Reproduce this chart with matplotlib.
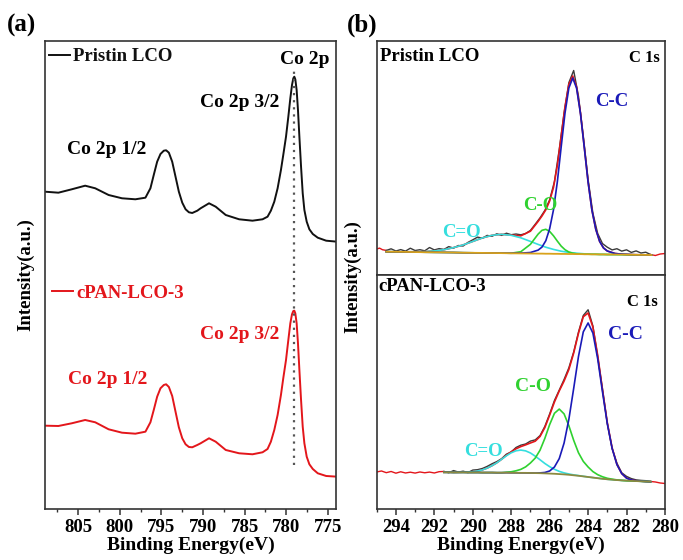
import numpy as np
import matplotlib
matplotlib.use("Agg")
import matplotlib.pyplot as plt
from matplotlib.ticker import MultipleLocator

plt.rcParams['font.family'] = ['Liberation Serif', 'DejaVu Serif']
plt.rcParams['font.weight'] = 'bold'

# ---------------- (a) Co 2p ----------------
co2p_be = [809.0, 807.39, 805.78, 804.17, 802.96, 801.35, 799.74, 798.13, 796.92, 796.32,
           795.92, 795.51, 795.11, 794.71, 794.43, 794.10, 793.70, 793.30, 792.90, 792.49,
           792.09, 791.69, 791.29, 790.68, 790.28, 789.27, 788.47, 787.26, 785.65, 784.04,
           782.83, 782.23, 781.83, 781.42, 781.02, 780.62, 780.34, 780.01, 779.73, 779.49,
           779.29, 779.13, 779.01, 778.89, 778.73, 778.57, 778.40, 778.20, 778.00, 777.80,
           777.52, 777.20, 776.79, 776.19, 775.18, 773.86]
pristine_co2p = [317.3, 316.3, 319.7, 323.3, 320.7, 314.0, 310.7, 309.7, 311.3, 320.7,
                 334.0, 347.3, 355.0, 358.3, 358.7, 356.3, 347.3, 332.3, 317.3, 306.3,
                 299.7, 296.7, 296.0, 298.3, 300.7, 305.7, 302.3, 294.0, 289.7, 288.3,
                 289.7, 292.3, 298.3, 307.3, 320.7, 339.0, 354.0, 372.3, 392.3, 410.7,
                 424.0, 430.7, 432.3, 429.7, 419.0, 399.0, 372.3, 342.3, 315.7, 299.0,
                 287.3, 279.7, 275.0, 271.3, 268.3, 267.3]
cpan_co2p = [83.3, 83.0, 85.7, 89.0, 86.7, 79.7, 76.3, 75.3, 77.3, 86.7,
             99.0, 112.3, 120.7, 124.0, 124.7, 122.0, 113.0, 97.3, 81.7, 70.7,
             64.7, 62.0, 61.7, 64.0, 65.7, 70.7, 67.3, 59.0, 55.7, 54.7,
             56.7, 60.0, 67.3, 79.0, 94.0, 114.0, 130.7, 149.0, 169.0, 185.7,
             194.7, 198.0, 198.3, 195.7, 185.7, 165.7, 139.0, 109.0, 82.3, 65.7,
             52.3, 44.7, 40.0, 35.7, 33.0, 32.3]
co2p32_be = 779.05
co2p32_span = (44, 439)

# ---------------- (b) C 1s, pristine LCO ----------------
c1s_raw_be_top = [294.5, 294.25, 294.0, 293.75, 293.5, 293.25, 293.0, 292.75, 292.5, 292.25,
                  292.0, 291.75, 291.5, 291.25, 291.0, 290.75, 290.5, 290.25, 290.0, 289.75,
                  289.5, 289.25, 289.0, 288.75, 288.5, 288.25, 288.0, 287.75, 287.5, 287.25,
                  287.0, 286.75, 286.5, 286.25, 286.0, 285.75, 285.5, 285.25, 285.0, 284.75,
                  284.5, 284.25, 284.0, 283.75, 283.5, 283.25, 283.0, 282.75, 282.5, 282.25,
                  282.0, 281.75, 281.5, 281.25, 281.0, 280.75]
c1s_raw_top = [24.6, 26.2, 24.0, 25.4, 23.9, 26.8, 24.5, 25.3, 24.2, 27.5,
               25.1, 26.4, 25.6, 28.4, 26.9, 29.5, 29.0, 32.6, 35.2, 37.9,
               36.8, 39.6, 38.7, 41.2, 39.6, 41.8, 40.3, 41.0, 40.2, 41.5,
               44.6, 50.8, 57.2, 64.6, 75.2, 93.5, 125.7, 162.0, 192.4, 204.5,
               178.8, 139.0, 95.6, 61.8, 41.5, 31.4, 27.8, 25.1, 26.3, 23.9,
               25.2, 22.6, 24.1, 22.0, 22.8, 20.5]
edge_left_be_top = [295.0, 294.85, 294.7, 294.5]
edge_left_top = [26.0, 26.9, 25.3, 24.6]
edge_right_be_top = [280.75, 280.5, 280.25, 280.0]
edge_right_top = [20.5, 19.5, 21.0, 21.5]

fit_be_top = [294.5, 293.5, 292.5, 292.0, 291.5, 291.0, 290.5, 290.0, 289.5, 289.0,
              288.5, 288.0, 287.5, 287.0, 286.6, 286.4, 286.2, 286.0, 285.8, 285.6,
              285.4, 285.2, 285.0, 284.8, 284.6, 284.4, 284.2, 284.0, 283.8, 283.6,
              283.4, 283.2, 283.0, 282.6, 282.2, 281.6, 281.0, 280.7]
bg_top = [23.3, 23.1, 22.8, 22.7, 22.6, 22.5, 22.3, 22.2, 22.1, 22.0,
          21.9, 21.7, 21.6, 21.5, 21.4, 21.4, 21.3, 21.3, 21.2, 21.2,
          21.1, 21.1, 21.0, 21.0, 20.9, 20.9, 20.8, 20.8, 20.7, 20.7,
          20.6, 20.6, 20.5, 20.5, 20.4, 20.2, 20.1, 20.0]
cc_top = [0, 0, 0, 0, 0, 0, 0, 0, 0, 0,
          0, 0.1, 0.3, 1.0, 3.5, 6.5, 13, 25, 44, 72,
          107, 141, 166, 176, 166, 141, 107, 72, 44, 25,
          13, 6.5, 3.5, 1.0, 0.4, 0.1, 0, 0]
co_top = [0, 0, 0, 0, 0, 0, 0, 0, 0, 0,
          0, 0.1, 1.7, 9.2, 19.5, 23.3, 24.4, 22.3, 18.0, 12.7,
          7.8, 4.2, 2.0, 0.8, 0.3, 0.1, 0, 0, 0, 0,
          0, 0, 0, 0, 0, 0, 0, 0]
c_o_top = [0, 0.1, 0.6, 1.4, 2.7, 4.9, 7.8, 11.4, 15.0, 17.7,
           18.8, 18.0, 15.6, 12.1, 9.2, 7.8, 6.5, 5.4, 4.4, 3.5,
           2.7, 2.1, 1.6, 1.2, 0.9, 0.6, 0.4, 0.3, 0.2, 0.1,
           0, 0, 0, 0, 0, 0, 0, 0]

# ---------------- (b) C 1s, cPAN-LCO-3 ----------------
fit_be_bot = [291.5, 291.25, 291.0, 290.75, 290.5, 290.25, 290.0, 289.75, 289.5, 289.25,
              289.0, 288.75, 288.5, 288.25, 288.0, 287.75, 287.5, 287.25, 287.0, 286.75,
              286.5, 286.25, 286.0, 285.75, 285.5, 285.25, 285.0, 284.75, 284.5, 284.25,
              284.0, 283.75, 283.5, 283.25, 283.0, 282.75, 282.5, 282.25, 282.0, 281.75,
              281.5, 281.25, 281.0, 280.75]
c1s_raw_bot = [37.5, 36.2, 38.4, 36.9, 37.8, 36.4, 38.9, 39.3, 40.5, 42.6,
               45.2, 47.4, 50.3, 54.8, 57.0, 61.5, 63.8, 65.0, 67.9, 69.1,
               73.4, 82.6, 95.0, 108.5, 118.9, 129.5, 141.2, 157.0, 176.9, 193.5,
               199.2, 183.0, 152.4, 120.1, 85.7, 60.5, 45.8, 36.2, 32.6, 30.4,
               29.1, 28.6, 28.3, 27.5]
bg_bot = [36.7, 36.7, 36.6, 36.6, 36.6, 36.5, 36.5, 36.5, 36.4, 36.4,
          36.4, 36.3, 36.3, 36.3, 36.2, 36.2, 36.1, 36.1, 36.0, 35.9,
          35.8, 35.6, 35.4, 35.2, 34.9, 34.6, 34.2, 33.7, 33.2, 32.6,
          32.0, 31.4, 30.8, 30.2, 29.7, 29.3, 28.9, 28.6, 28.3, 28.1,
          27.9, 27.7, 27.5, 27.3]
cc_bot = [0, 0, 0, 0, 0, 0, 0, 0, 0, 0,
          0, 0, 0, 0, 0, 0, 0, 0, 0, 0,
          0.3, 0.9, 2.6, 6.8, 15.5, 31.3, 55.5, 86.8, 119.3, 144.5,
          154, 144.5, 119.3, 86.8, 55.5, 31.3, 15.5, 6.8, 2.6, 0.9,
          0.3, 0.1, 0, 0]
co_bot = [0, 0, 0, 0, 0, 0, 0, 0, 0, 0,
          0, 0, 0, 0.5, 1.0, 2.0, 3.5, 6.0, 10.0, 15.0,
          23.0, 35.0, 49.0, 60.5, 65.0, 60.5, 49.0, 35.0, 23.0, 15.0,
          10.0, 6.0, 3.5, 2.0, 1.0, 0.5, 0.2, 0, 0, 0,
          0, 0, 0, 0]
c_o_bot = [0, 0, 0, 0.1, 0.2, 0.4, 0.8, 1.5, 2.7, 4.5,
           6.9, 9.9, 13.4, 16.9, 20.0, 22.0, 22.8, 22.0, 20.0, 16.9,
           13.4, 9.9, 6.9, 4.5, 2.7, 1.5, 0.8, 0.4, 0.2, 0.1,
           0, 0, 0, 0, 0, 0, 0, 0, 0, 0,
           0, 0, 0, 0]
edge_left_be_bot = [295.0, 294.75, 294.5, 294.25, 294.0, 293.75, 293.5, 293.25, 293.0,
                    292.75, 292.5, 292.25, 292.0, 291.75, 291.5]
edge_left_bot = [37.0, 38.0, 36.3, 37.5, 35.8, 37.2, 36.0, 36.8, 35.9,
                 37.0, 36.2, 36.9, 36.0, 37.3, 37.5]
edge_right_be_bot = [280.75, 280.5, 280.25, 280.0]
edge_right_bot = [27.5, 27.0, 26.0, 25.5]

RED = '#e3161b'
BLUE = '#1a1ab8'
GREEN = '#2fd12f'
CYAN = '#35dede'
RAW = '#3a3a3a'
SPINE = '#333333'
FS = 13.5

fig = plt.figure(figsize=(6.83, 5.6), dpi=100)
ax_a = fig.add_axes([0.0659, 0.0911, 0.426, 0.8357])
ax_t = fig.add_axes([0.5515, 0.5089, 0.4221, 0.4179])
ax_b = fig.add_axes([0.5515, 0.0911, 0.4221, 0.4179], sharex=ax_t)

for ax in (ax_a, ax_t, ax_b):
    for s in ax.spines.values():
        s.set_linewidth(1.2)
        s.set_color(SPINE)
    ax.set_yticks([])

# ---- panel (a) ----
h1, = ax_a.plot(co2p_be, pristine_co2p, color='#111111', lw=1.4, label='Pristin LCO')
h2, = ax_a.plot(co2p_be, cpan_co2p, color=RED, lw=1.4, label='cPAN-LCO-3')
ax_a.vlines(co2p32_be, co2p32_span[0], co2p32_span[1], colors='#555555', lw=1.6,
            linestyles=(0, (1, 2.2)))
ax_a.set_xlim(809, 774)
ax_a.set_ylim(0, 468)
ax_a.set_xticks([805, 800, 795, 790, 785, 780, 775])
ax_a.xaxis.set_minor_locator(MultipleLocator(2.5))
ax_a.tick_params(axis='x', which='major', direction='out', length=4, width=1.1,
                 labelsize=FS, pad=3, colors=SPINE, labelcolor='black')
ax_a.tick_params(axis='x', which='minor', direction='out', length=2.5, width=1.0, colors=SPINE)
ax_a.set_xlabel('Binding Energy(eV)', fontsize=FS + 0.5, fontweight='bold', labelpad=1)
ax_a.set_ylabel('Intensity(a.u.)', fontsize=FS, fontweight='bold', labelpad=8)

prop = dict(size=FS, weight='bold')
leg1 = ax_a.legend(handles=[h1], loc='center left', bbox_to_anchor=(0.014, 0.966),
                   frameon=False, handlelength=1.1, handletextpad=0.2, borderpad=0,
                   borderaxespad=0, prop=prop, labelcolor='linecolor')
ax_a.add_artist(leg1)
ax_a.legend(handles=[h2], loc='center left', bbox_to_anchor=(0.024, 0.4615),
            frameon=False, handlelength=1.1, handletextpad=0.2, borderpad=0,
            borderaxespad=0, prop=prop, labelcolor='linecolor')

ax_a.text(777.8, 449, 'Co 2p', ha='center', va='center', fontsize=FS + 0.5)
ax_a.text(785.6, 406, 'Co 2p 3/2', ha='center', va='center', fontsize=FS + 0.5)
ax_a.text(801.6, 359, 'Co 2p 1/2', ha='center', va='center', fontsize=FS + 0.5)
ax_a.text(785.6, 174, 'Co 2p 3/2', ha='center', va='center', fontsize=FS + 0.5, color=RED)
ax_a.text(801.5, 129, 'Co 2p 1/2', ha='center', va='center', fontsize=FS + 0.5, color=RED)

# ---- panel (b) ----
def draw_c1s(ax, raw_be, raw, fit_be, bg, cc, co, c_o, left_be, left, right_be, right, bg_color):
    bg = np.array(bg)
    env = bg + np.array(cc) + np.array(co) + np.array(c_o)
    ax.plot(left_be, left, color=RED, lw=1.0)
    ax.plot(right_be, right, color=RED, lw=1.0)
    ax.plot(raw_be, raw, color=RAW, lw=1.0)
    ax.plot(fit_be, env, color=RED, lw=1.2)
    ax.plot(fit_be, bg + np.array(c_o), color=CYAN, lw=1.2)
    ax.plot(fit_be, bg + np.array(co), color=GREEN, lw=1.2)
    ax.plot(fit_be, bg + np.array(cc), color=BLUE, lw=1.2)
    ax.plot(fit_be, bg, color=bg_color, lw=1.3)
    ax.set_ylim(0, 234)

draw_c1s(ax_t, c1s_raw_be_top, c1s_raw_top, fit_be_top, bg_top, cc_top, co_top, c_o_top,
         edge_left_be_top, edge_left_top, edge_right_be_top, edge_right_top, '#d9a21b')
draw_c1s(ax_b, fit_be_bot, c1s_raw_bot, fit_be_bot, bg_bot, cc_bot, co_bot, c_o_bot,
         edge_left_be_bot, edge_left_bot, edge_right_be_bot, edge_right_bot, '#8c8a40')

ax_b.set_xlim(295, 280)
ax_b.set_xticks([294, 292, 290, 288, 286, 284, 282, 280])
ax_b.xaxis.set_minor_locator(MultipleLocator(1))
ax_b.tick_params(axis='x', which='major', direction='out', length=4, width=1.1,
                 labelsize=FS, pad=3, colors=SPINE, labelcolor='black')
ax_b.tick_params(axis='x', which='minor', direction='out', length=2.5, width=1.0, colors=SPINE)
ax_t.tick_params(axis='x', which='both', bottom=False, labelbottom=False)
ax_b.set_xlabel('Binding Energy(eV)', fontsize=FS + 0.5, fontweight='bold', labelpad=1)

ax_t.text(0.011, 0.932, 'Pristin LCO', transform=ax_t.transAxes, ha='left', va='center', fontsize=FS)
ax_t.text(0.983, 0.927, 'C 1s', transform=ax_t.transAxes, ha='right', va='center', fontsize=FS - 1.5)
ax_t.text(282.77, 173, 'C-C', ha='center', va='center', fontsize=FS, color=BLUE)
ax_t.text(286.47, 70, 'C-O', ha='center', va='center', fontsize=FS, color=GREEN)
ax_t.text(290.6, 43, 'C=O', ha='center', va='center', fontsize=FS, color=CYAN)

ax_b.text(0.005, 0.949, 'cPAN-LCO-3', transform=ax_b.transAxes, ha='left', va='center', fontsize=FS)
ax_b.text(0.976, 0.885, 'C 1s', transform=ax_b.transAxes, ha='right', va='center', fontsize=FS - 1.5)
ax_b.text(282.07, 174, 'C-C', ha='center', va='center', fontsize=FS + 0.5, color=BLUE)
ax_b.text(286.89, 122, 'C-O', ha='center', va='center', fontsize=FS + 0.5, color=GREEN)
ax_b.text(289.46, 57, 'C=O', ha='center', va='center', fontsize=FS, color=CYAN)

fig.text(353 / 683, 1 - 277 / 560, 'Intensity(a.u.)', rotation=90, ha='center', va='center',
         fontsize=FS, fontweight='bold')
fig.text(7 / 683, 1 - 25 / 560, '(a)', ha='left', va='center', fontsize=18)
fig.text(347 / 683, 1 - 25 / 560, '(b)', ha='left', va='center', fontsize=18)

fig.savefig('out.png', dpi=100)
